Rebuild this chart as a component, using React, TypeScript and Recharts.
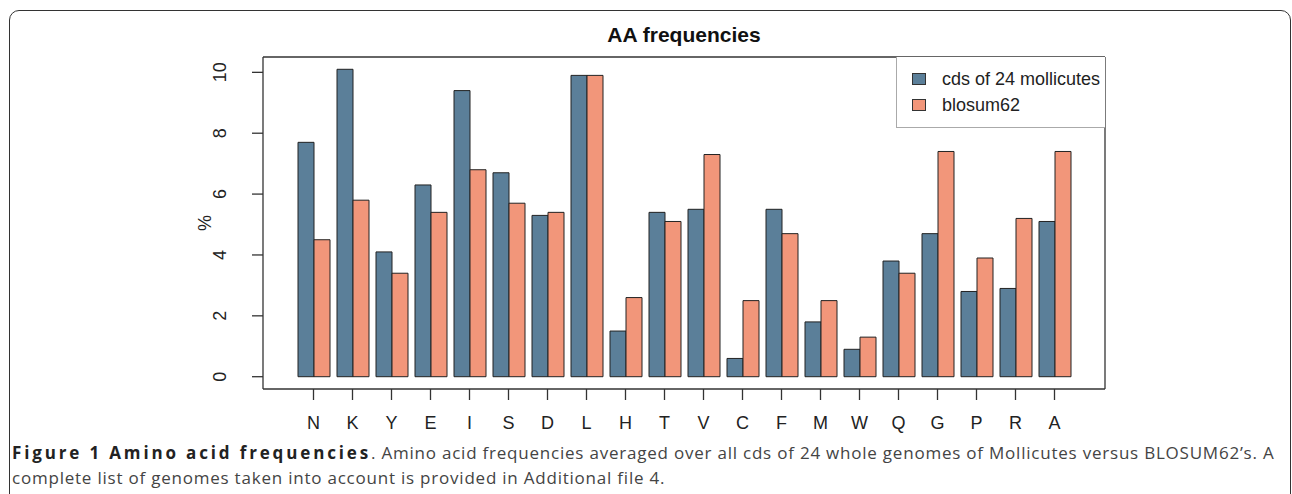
import { Bar, BarChart, Legend, XAxis, YAxis } from "recharts"

const CATEGORIES = ["N", "K", "Y", "E", "I", "S", "D", "L", "H", "T", "V", "C", "F", "M", "W", "Q", "G", "P", "R", "A"]
const MOLLICUTES = [7.7, 10.1, 4.1, 6.3, 9.4, 6.7, 5.3, 9.9, 1.5, 5.4, 5.5, 0.6, 5.5, 1.8, 0.9, 3.8, 4.7, 2.8, 2.9, 5.1]
const BLOSUM62 = [4.5, 5.8, 3.4, 5.4, 6.8, 5.7, 5.4, 9.9, 2.6, 5.1, 7.3, 2.5, 4.7, 2.5, 1.3, 3.4, 7.4, 3.9, 5.2, 7.4]
const Y_TICKS = [0, 2, 4, 6, 8, 10]

const SERIES_NAMES = ["cds of 24 mollicutes", "blosum62"]
const BLUE = "#5b7f99"
const ORANGE = "#f2967a"
const INK = "#222"
const FONT = "'Liberation Sans', Arial, Helvetica, sans-serif"

const data = CATEGORIES.map((aa, i) => ({
  aa,
  mollicutes: MOLLICUTES[i],
  blosum62: BLOSUM62[i],
}))

function RotatedTick({ x, y, payload }: any) {
  return (
    <text
      x={x - 24}
      y={y}
      transform={`rotate(-90, ${x - 24}, ${y})`}
      textAnchor="middle"
      fontSize={18}
      fontFamily={FONT}
      fill={INK}
    >
      {payload.value}
    </text>
  )
}

function LegendBox({ payload }: any) {
  // keep the series order, the library sorts legend items by name
  const items = [...(payload ?? [])].sort(
    (a: any, b: any) => SERIES_NAMES.indexOf(a.value) - SERIES_NAMES.indexOf(b.value)
  )
  return (
    <div
      style={{
        width: 209,
        height: 71,
        boxSizing: "border-box",
        borderLeft: "1px solid #aaa",
        borderBottom: "1px solid #aaa",
        background: "white",
        fontFamily: FONT,
        fontSize: 18,
        color: INK,
        paddingTop: 9,
      }}
    >
      {items.map((entry: any) => (
        <div key={entry.value} style={{ display: "flex", alignItems: "center", height: 26 }}>
          <span
            style={{
              display: "inline-block",
              width: 14,
              height: 12,
              marginLeft: 15,
              marginRight: 16,
              background: entry.color,
              border: "1px solid #333",
              boxSizing: "border-box",
            }}
          />
          <span>{entry.value}</span>
        </div>
      ))}
    </div>
  )
}

export default function App() {
  return (
    <div
      style={{
        position: "fixed",
        top: 0,
        left: 0,
        width: 1292,
        height: 494,
        overflow: "hidden",
        background: "white",
      }}
    >
      <div
        style={{
          position: "absolute",
          left: 9,
          top: 10,
          width: 1282,
          height: 520,
          boxSizing: "border-box",
          border: "1.5px solid #333",
          borderRadius: 10,
        }}
      />
      <div style={{ position: "absolute", left: 0, top: 0 }}>
        <BarChart
          width={1292}
          height={440}
          data={data}
          margin={{ top: 56, right: 186, bottom: 11, left: 203 }}
          barCategoryGap={4}
          barGap={0}
        >
          <text x={684} y={42} textAnchor="middle" fontSize={21} fontWeight="bold" fontFamily={FONT} fill="#111">
            AA frequencies
          </text>
          <XAxis
            dataKey="aa"
            interval={0}
            padding={{ left: 31, right: 31 }}
            height={40}
            tickSize={11}
            tickMargin={16}
            axisLine={{ stroke: "#333", strokeWidth: 1.3 }}
            tickLine={{ stroke: "#333", strokeWidth: 1.3 }}
            tick={{ fontSize: 18, fontFamily: FONT, fill: INK }}
          />
          <XAxis
            xAxisId="top"
            orientation="top"
            dataKey="aa"
            height={1}
            tick={false}
            tickLine={false}
            padding={{ left: 31, right: 31 }}
            axisLine={{ stroke: "#333", strokeWidth: 1.3 }}
          />
          <YAxis
            domain={[-0.404, 10.504]}
            allowDataOverflow
            ticks={Y_TICKS}
            width={60}
            tickSize={11}
            axisLine={{ stroke: "#333", strokeWidth: 1.3 }}
            tickLine={{ stroke: "#333", strokeWidth: 1.3 }}
            tick={<RotatedTick />}
            label={({ viewBox }: any) => (
              <text
                x={viewBox.x + 8}
                y={viewBox.y + viewBox.height / 2}
                transform={`rotate(-90, ${viewBox.x + 8}, ${viewBox.y + viewBox.height / 2})`}
                textAnchor="middle"
                fontSize={18}
                fontFamily={FONT}
                fill={INK}
              >
                %
              </text>
            )}
          />
          <YAxis
            yAxisId="right"
            orientation="right"
            domain={[-0.404, 10.504]}
            allowDataOverflow
            width={1}
            tick={false}
            tickLine={false}
            axisLine={{ stroke: "#333", strokeWidth: 1.3 }}
          />
          <Legend
            layout="horizontal"
            verticalAlign="middle"
            align="center"
            content={<LegendBox />}
            wrapperStyle={{ left: 896, top: 57, width: 209, height: 71 }}
          />
          <Bar
            dataKey="mollicutes"
            name={SERIES_NAMES[0]}
            fill={BLUE}
            stroke={INK}
            strokeWidth={1}
            isAnimationActive={false}
          />
          <Bar
            dataKey="blosum62"
            name={SERIES_NAMES[1]}
            fill={ORANGE}
            stroke={INK}
            strokeWidth={1}
            isAnimationActive={false}
          />
        </BarChart>
      </div>
      <div
        style={{
          position: "absolute",
          left: 12,
          top: 440,
          whiteSpace: "nowrap",
          fontFamily: "'Open Sans', sans-serif",
          fontSize: 17,
          lineHeight: "25px",
          letterSpacing: 0.78,
          color: "#444",
        }}
      >
        <div>
          <b style={{ color: "#222", letterSpacing: 2.85 }}>Figure 1 Amino acid frequencies</b>. Amino acid frequencies
          averaged over all cds of 24 whole genomes of Mollicutes versus BLOSUM62’s. A
        </div>
        <div>complete list of genomes taken into account is provided in Additional file 4.</div>
      </div>
    </div>
  )
}
